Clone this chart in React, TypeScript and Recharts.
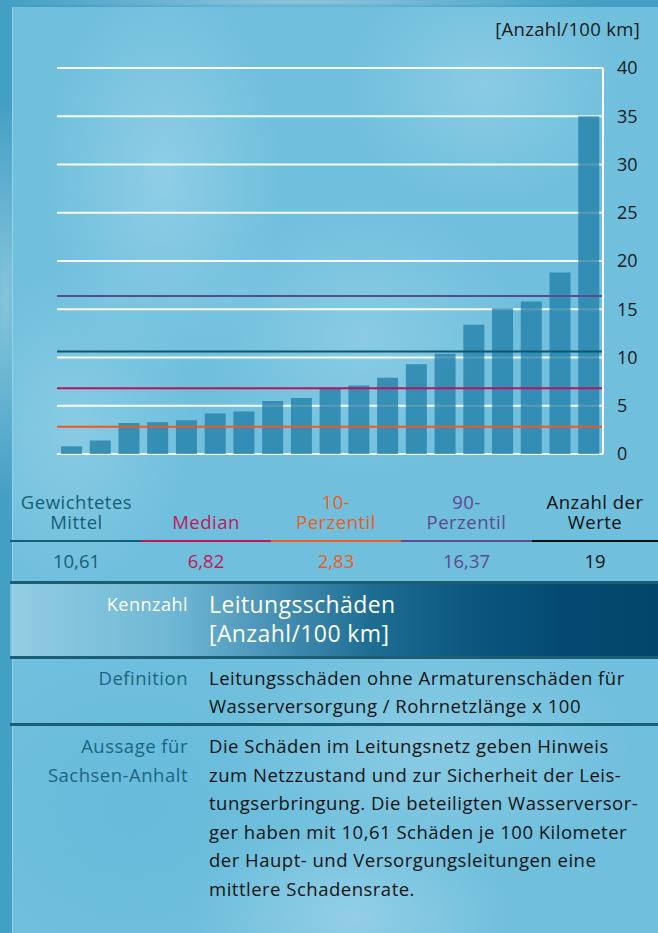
import React from 'react';
import { BarChart, Bar, XAxis, YAxis, CartesianGrid, ReferenceLine } from 'recharts';

const categories = ['1','2','3','4','5','6','7','8','9','10','11','12','13','14','15','16','17','18','19'];
const damageRates = [0.8, 1.4, 3.2, 3.3, 3.5, 4.2, 4.4, 5.5, 5.8, 6.8, 7.1, 7.9, 9.3, 10.4, 13.4, 15.1, 15.8, 18.8, 35.0];
const yTicks = [0, 5, 10, 15, 20, 25, 30, 35, 40];
const unitLabel = '[Anzahl/100 km]';

const statLabels = [['Gewichtetes', 'Mittel'], ['Median'], ['10-', 'Perzentil'], ['90-', 'Perzentil'], ['Anzahl der', 'Werte']];
const statValues = ['10,61', '6,82', '2,83', '16,37', '19'];
const refValues = [10.61, 6.82, 2.83, 16.37];
const statColors = ['#165d77', '#c2185b', '#ec5d22', '#5e4a8c', '#111111'];
const refColors = ['#0d5670', '#b8145a', '#ee5a1f', '#5a4b8c'];

const kennzahlLabel = 'Kennzahl';
const kennzahlLines = ['Leitungsschäden', '[Anzahl/100 km]'];
const definitionLabel = 'Definition';
const definitionLines = ['Leitungsschäden ohne Armaturenschäden für', 'Wasserversorgung / Rohrnetzlänge x 100'];
const aussageLabelLines = ['Aussage für', 'Sachsen-Anhalt'];
const aussageLines = [
  'Die Schäden im Leitungsnetz geben Hinweis',
  'zum Netzzustand und zur Sicherheit der Leis-',
  'tungserbringung. Die beteiligten Wasserversor-',
  'ger haben mit 10,61 Schäden je 100 Kilometer',
  'der Haupt- und Versorgungsleitungen eine',
  'mittlere Schadensrate.',
];

const FONT = '"Open Sans", "DejaVu Sans", sans-serif';
const colEdges = [12, 141, 271, 401, 532, 658];

const chartData = categories.map((c, i) => ({ name: c, value: damageRates[i] }));

const bodyText: React.CSSProperties = { fontSize: 18.5, letterSpacing: 0.5, whiteSpace: 'nowrap' };

export default function App() {
  return (
    <div
      style={{
        position: 'absolute',
        left: 0,
        top: 0,
        width: 658,
        height: 933,
        overflow: 'hidden',
        fontFamily: FONT,
        background:
          'radial-gradient(ellipse 40px 200px at 5px 300px, rgba(200,235,245,0.5), transparent), radial-gradient(ellipse 300px 8px at 300px 2px, rgba(220,240,250,0.5), transparent), #449fc4',
      }}
    >
      {/* inner panel */}
      <div
        style={{
          position: 'absolute',
          left: 12,
          top: 7,
          width: 646,
          height: 926,
          borderLeft: '1px solid rgba(150,215,235,0.9)',
          background: [
            'radial-gradient(ellipse 120px 200px at 150px 170px, rgba(175,220,238,0.5), transparent)',
            'radial-gradient(ellipse 140px 120px at 470px 80px, rgba(180,222,238,0.4), transparent)',
            'radial-gradient(ellipse 160px 140px at 350px 330px, rgba(180,222,238,0.4), transparent)',
            'radial-gradient(ellipse 120px 160px at 60px 420px, rgba(170,218,236,0.45), transparent)',
            'radial-gradient(ellipse 200px 120px at 420px 740px, rgba(180,222,238,0.4), transparent)',
            'radial-gradient(ellipse 160px 100px at 340px 910px, rgba(190,226,240,0.45), transparent)',
            'radial-gradient(ellipse 180px 160px at 120px 800px, rgba(90,180,215,0.35), transparent)',
            '#6fbfdd',
          ].join(', '),
        }}
      />

      {/* unit label */}
      <div
        style={{
          position: 'absolute',
          right: 18,
          top: 17,
          fontSize: 18.5,
          letterSpacing: 0.3,
          lineHeight: '24px',
          color: '#1a1a1a',
          whiteSpace: 'nowrap',
        }}
      >
        {unitLabel}
      </div>

      <div style={{ position: 'absolute', left: 0, top: 0 }}>
        <BarChart
          width={658}
          height={470}
          data={chartData}
          margin={{ top: 68, right: 0, bottom: 16, left: 57 }}
        >
          <CartesianGrid horizontal vertical={false} stroke="#ffffff" strokeWidth={2} strokeOpacity={0.95} />
          <XAxis dataKey="name" hide />
          <YAxis
            orientation="right"
            width={55}
            domain={[0, 40]}
            ticks={yTicks}
            interval={0}
            tickLine={false}
            axisLine={{ stroke: '#ffffff', strokeWidth: 2 }}
            tickMargin={8}
            tick={{ fill: '#1a1a1a', fontSize: 18, fontFamily: FONT }}
          />
          <Bar dataKey="value" fill="#1f7ca6" fillOpacity={0.75} barSize={21} isAnimationActive={false} />
          {refValues.map((v, i) => (
            <ReferenceLine key={i} y={v} stroke={refColors[i]} strokeWidth={2} ifOverflow="extendDomain" />
          ))}
        </BarChart>
      </div>

      {/* stats header */}
      {statLabels.map((lines, i) => (
        <div
          key={'h' + i}
          style={{
            position: 'absolute',
            left: colEdges[i],
            width: colEdges[i + 1] - colEdges[i],
            top: 492,
            height: 40,
            display: 'flex',
            flexDirection: 'column',
            justifyContent: 'flex-end',
            textAlign: 'center',
            fontSize: 18.5,
            letterSpacing: 0.5,
            lineHeight: '20px',
            color: statColors[i],
            whiteSpace: 'nowrap',
          }}
        >
          {lines.map((l, j) => (
            <div key={j}>{l}</div>
          ))}
        </div>
      ))}
      {statColors.map((c, i) => (
        <div
          key={'u' + i}
          style={{
            position: 'absolute',
            left: i === 0 ? 10 : colEdges[i],
            width: colEdges[i + 1] - (i === 0 ? 10 : colEdges[i]),
            top: 540,
            height: 2,
            background: c,
          }}
        />
      ))}
      {statValues.map((v, i) => (
        <div
          key={'v' + i}
          style={{
            position: 'absolute',
            left: colEdges[i],
            width: colEdges[i + 1] - colEdges[i],
            top: 549,
            height: 24,
            textAlign: 'center',
            fontSize: 18.5,
            lineHeight: '24px',
            color: statColors[i],
          }}
        >
          {v}
        </div>
      ))}

      {/* Kennzahl row background */}
      <div
        style={{
          position: 'absolute',
          left: 10,
          top: 583,
          width: 648,
          height: 73,
          background:
            'linear-gradient(90deg, rgba(170,215,232,0.6) 0%, rgba(110,180,208,0.7) 25%, #4f98bb 38%, #1f6f95 55%, #0c5880 70%, #044a70 85%, #03466b 100%)',
        }}
      />
      {/* separator lines */}
      {[581, 656, 723].map((y, i) => (
        <div
          key={'s' + i}
          style={{ position: 'absolute', left: 10, top: y, width: 648, height: 3, background: '#1b5d74' }}
        />
      ))}

      {/* Kennzahl row */}
      <div
        style={{
          position: 'absolute',
          left: 0,
          width: 188,
          top: 591,
          textAlign: 'right',
          fontSize: 18,
          letterSpacing: 0.5,
          lineHeight: '26px',
          color: '#ffffff',
        }}
      >
        {kennzahlLabel}
      </div>
      <div
        style={{
          position: 'absolute',
          left: 209,
          top: 590,
          fontSize: 23,
          letterSpacing: 0.4,
          lineHeight: '29px',
          color: '#ffffff',
          whiteSpace: 'nowrap',
        }}
      >
        {kennzahlLines.map((l, j) => (
          <div key={j}>{l}</div>
        ))}
      </div>

      {/* Definition row */}
      <div
        style={{
          position: 'absolute',
          left: 0,
          width: 188,
          top: 664,
          textAlign: 'right',
          lineHeight: '28px',
          color: '#1a6580',
          ...bodyText,
        }}
      >
        {definitionLabel}
      </div>
      <div
        style={{
          position: 'absolute',
          left: 209,
          top: 664,
          lineHeight: '28px',
          color: '#141414',
          ...bodyText,
        }}
      >
        {definitionLines.map((l, j) => (
          <div key={j}>{l}</div>
        ))}
      </div>

      {/* Aussage row */}
      <div
        style={{
          position: 'absolute',
          left: 0,
          width: 188,
          top: 732,
          textAlign: 'right',
          lineHeight: '28.6px',
          color: '#1a6580',
          ...bodyText,
        }}
      >
        {aussageLabelLines.map((l, j) => (
          <div key={j}>{l}</div>
        ))}
      </div>
      <div
        style={{
          position: 'absolute',
          left: 209,
          top: 732,
          lineHeight: '28.6px',
          color: '#141414',
          ...bodyText,
        }}
      >
        {aussageLines.map((l, j) => (
          <div key={j}>{l}</div>
        ))}
      </div>
    </div>
  );
}
